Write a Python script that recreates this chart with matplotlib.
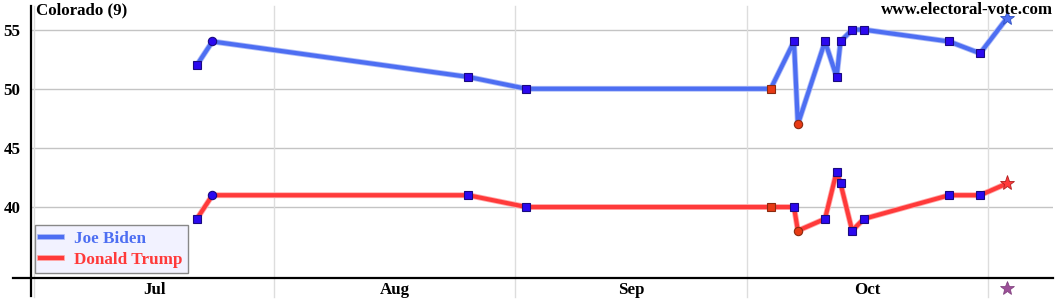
import matplotlib
matplotlib.use("Agg")
import matplotlib.pyplot as plt
import matplotlib.dates as mdates
import matplotlib.patheffects as pe
from matplotlib.lines import Line2D
import numpy as np

# ---- data ----
poll_dates = ["2020-07-22", "2020-07-24", "2020-08-26", "2020-09-02 12:00",
              "2020-10-04", "2020-10-07", "2020-10-07 12:00", "2020-10-11",
              "2020-10-12 12:00", "2020-10-13", "2020-10-14 12:00", "2020-10-16",
              "2020-10-27", "2020-10-31", "2020-11-03 12:00"]
biden = [52, 54, 51, 50, 50, 54, 47, 54, 51, 54, 55, 55, 54, 53, 56]
trump = [39, 41, 41, 40, 40, 40, 38, 39, 43, 42, 38, 39, 41, 41, 42]
marker_kind = ["sq_blue", "ci_blue", "sq_blue", "sq_blue", "sq_red", "sq_blue",
               "ci_red", "sq_blue", "sq_blue", "sq_blue", "sq_blue", "sq_blue",
               "sq_blue", "sq_blue", "star"]
election_day = "2020-11-03 12:00"
month_starts = ["2020-07-01", "2020-08-01", "2020-09-01", "2020-10-01", "2020-11-01"]
month_mids = ["2020-07-16 12:00", "2020-08-16 12:00", "2020-09-16", "2020-10-16 12:00"]
month_labels = ["Jul", "Aug", "Sep", "Oct"]
y_ticks = [40, 45, 50, 55]
title = "Colorado (9)"
site = "www.electoral-vote.com"

BLUE = "#4d6ef2"
RED = "#ff3a3a"
FS = 12.2

W, H = 1060, 300
fig = plt.figure(figsize=(W / 100, H / 100), dpi=100)
L, R, B, T = 31, 1053, 278, 6
ax = fig.add_axes([L / W, (H - B) / H, (R - L) / W, (B - T) / H])

FONT = "Liberation Serif"
plt.rcParams["font.family"] = FONT

x = mdates.date2num(np.array(poll_dates, dtype="datetime64[m]"))
x0 = mdates.date2num(np.datetime64("2020-07-01"))
ax.set_xlim(x0 - 0.39, x0 + 131.4)
ax.set_ylim(34, 57)

for s in ax.spines.values():
    s.set_visible(False)

# grid
for yt in y_ticks:
    ax.axhline(yt, color="#c4c4c4", lw=1, zorder=1)
for ms in month_starts:
    ax.axvline(mdates.date2num(np.datetime64(ms)), ymin=-0.07, ymax=1,
               color="#dddddd", lw=1, zorder=1, clip_on=False)

ax.set_yticks(y_ticks)
ax.set_yticklabels([str(v) for v in y_ticks], fontsize=FS, fontweight="bold",
                   family=FONT)
ax.tick_params(axis="y", length=0, pad=7.5)
xm = mdates.date2num(np.array(month_mids, dtype="datetime64[m]"))
ax.set_xticks(xm)
ax.set_xticklabels(month_labels, fontsize=FS, fontweight="bold", family=FONT)
ax.tick_params(axis="x", length=0, pad=3)

# axis lines (extend beyond the plotting box)
fig.add_artist(Line2D([13 / W, R / W], [(H - B) / H, (H - B) / H], color="black", lw=1.6))
fig.add_artist(Line2D([L / W, L / W], [(H - 296) / H, (H - T) / H], color="black", lw=1.6))

halo_b = [pe.Stroke(linewidth=4.2, foreground="#aebcf8"), pe.Normal()]
halo_r = [pe.Stroke(linewidth=4.2, foreground="#ffaaaa"), pe.Normal()]
lb, = ax.plot(x, biden, color=BLUE, lw=3, zorder=3, path_effects=halo_b,
              solid_joinstyle="round", label="Joe Biden")
lr, = ax.plot(x, trump, color=RED, lw=3, zorder=3, path_effects=halo_r,
              solid_joinstyle="round", label="Donald Trump")

styles = {
    "sq_blue": dict(marker="s", mfc="#2b08f0", mec="#1a0a80", ms=5.6),
    "ci_blue": dict(marker="o", mfc="#2b08f0", mec="#1a0a80", ms=6),
    "sq_red": dict(marker="s", mfc="#e83a14", mec="#8a2a10", ms=5.6),
    "ci_red": dict(marker="o", mfc="#e83a14", mec="#8a2a10", ms=6),
}
kinds = np.array(marker_kind)
for k, st in styles.items():
    idx = np.where(kinds == k)[0]
    if len(idx):
        ax.plot(x[idx], np.array(biden)[idx], ls="none", mew=0.8, zorder=4, **st)
        ax.plot(x[idx], np.array(trump)[idx], ls="none", mew=0.8, zorder=4, **st)
idx = np.where(kinds == "star")[0]
ax.plot(x[idx], np.array(biden)[idx], ls="none", marker="*", ms=11, mfc=BLUE,
        mec="#3050c0", mew=0.6, zorder=5, clip_on=False)
ax.plot(x[idx], np.array(trump)[idx], ls="none", marker="*", ms=11, mfc=RED,
        mec="#b02020", mew=0.6, zorder=5, clip_on=False)

# election day star under the axis
ax.plot([mdates.date2num(np.datetime64(election_day))], [33.15], ls="none",
        marker="*", ms=10, mfc="#9c4f98", mec="#7a3a78", mew=0.5, clip_on=False)

fig.text(36 / W, 1 - 2.5 / H, title, ha="left", va="top", fontsize=FS,
         fontweight="bold", family=FONT)
fig.text(1053 / W, 1 - 2.5 / H, site, ha="right", va="top", fontsize=FS,
         fontweight="bold", family=FONT)

leg = ax.legend(handles=[lb, lr], loc="lower left",
                bbox_to_anchor=((35 - L) / (R - L), (B - 273) / (B - T)),
                prop=dict(family=FONT, weight="bold", size=12.3),
                labelcolor="linecolor", frameon=True, fancybox=False,
                handlelength=1.25, handletextpad=0.7, borderpad=0.32,
                labelspacing=0.28, borderaxespad=0)
leg.get_frame().set_facecolor("#f2f2ff")
leg.get_frame().set_edgecolor("#888888")
leg.get_frame().set_linewidth(1)
leg.get_frame().set_alpha(1)

fig.savefig("out.png", dpi=100)
